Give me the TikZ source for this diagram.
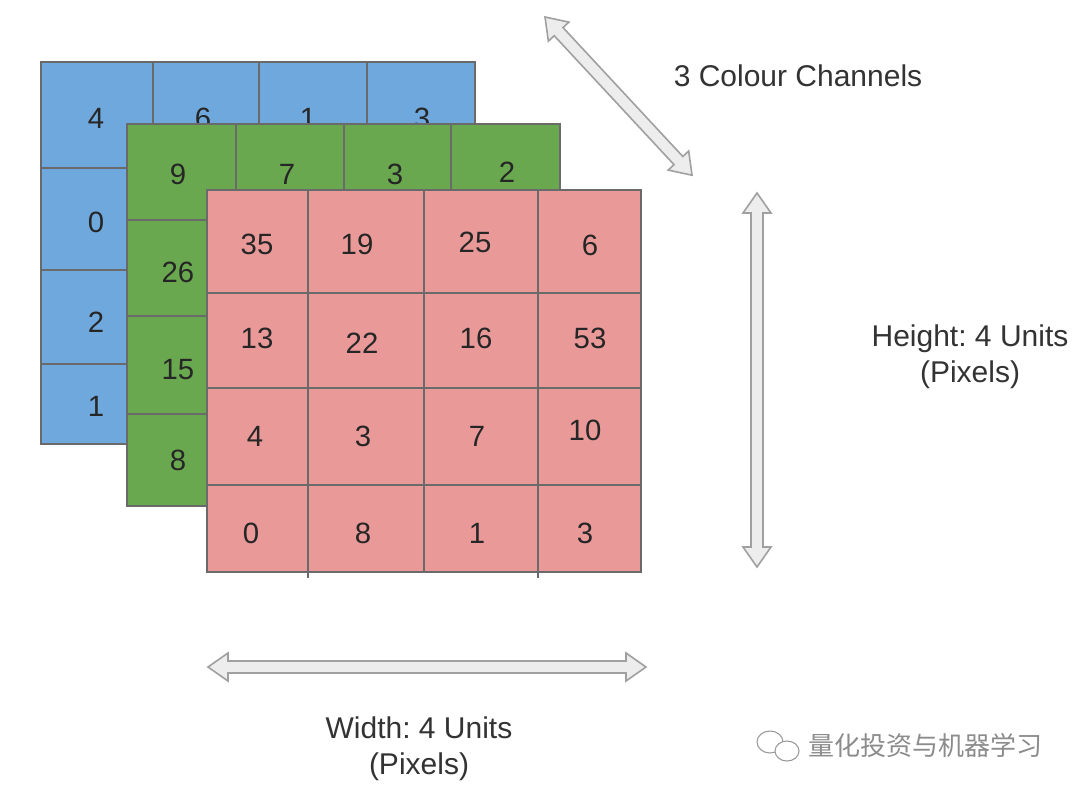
\documentclass[tikz,border=0pt]{standalone}
\usepackage{fontspec}
\setmainfont{Liberation Sans}
\newfontfamily\cjk{Noto Sans CJK SC}
\frenchspacing
\definecolor{cblue}{HTML}{6FA8DC}
\definecolor{cgreen}{HTML}{6AA84F}
\definecolor{cred}{HTML}{EA9999}
\definecolor{cgrid}{HTML}{6A6A6A}
\definecolor{arrfill}{HTML}{EDEDED}
\definecolor{arrline}{HTML}{A0A0A0}
\newcommand{\dblarrow}[4]{% x y angle length
\begin{scope}[shift={(#1,#2)},rotate=#3]
\draw[arrline,fill=arrfill,line width=1.2pt,line join=miter] (0,0) -- (20,-14) -- (20,-6) -- (#4-20,-6) -- (#4-20,-14) -- (#4,0) -- (#4-20,14) -- (#4-20,6) -- (20,6) -- (20,14) -- cycle;
\end{scope}}
\tikzset{num/.style={font=\fontsize{22}{24}\selectfont,text=black!85,inner sep=0pt},
lab/.style={font=\fontsize{22.5}{26}\selectfont,text=black!80,inner sep=0pt,align=center},
gridl/.style={cgrid,line width=0.9pt}}
\begin{document}
\begin{tikzpicture}[x=0.75pt,y=-0.75pt]
\useasboundingbox (0,0) rectangle (1080,795);
\fill[white] (0,0) rectangle (1080,795);
% blue layer
\fill[cblue] (41,62) rectangle (475,444);
\draw[gridl] (41,62) rectangle (475,444);
\foreach \x in {153,259,367} \draw[gridl] (\x,62) -- (\x,444);
\foreach \y in {168,270,364} \draw[gridl] (41,\y) -- (475,\y);
\node[num] (b1) at (96,118) {4};
\node[num] (b2) at (203,118) {6};
\node[num] (b3) at (308,118) {1};
\node[num] (b4) at (422,118) {3};
\node[num] (b5) at (96,222) {0};
\node[num] (b6) at (96,322) {2};
\node[num] (b7) at (96,406) {1};
% green layer
\fill[cgreen] (127,124) rectangle (560,506);
\draw[gridl] (127,124) rectangle (560,506);
\foreach \x in {236,344,451} \draw[gridl] (\x,124) -- (\x,506);
\foreach \y in {220,316,414} \draw[gridl] (127,\y) -- (560,\y);
\node[num] (g1) at (178,174) {9};
\node[num] (g2) at (287,174) {7};
\node[num] (g3) at (395,174) {3};
\node[num] (g4) at (507,172) {2};
\node[num] (g5) at (178,272) {26};
\node[num] (g6) at (178,370) {15};
\node[num] (g7) at (178,460) {8};
% red layer
\fill[cred] (207,190) rectangle (641,572);
\draw[gridl] (207,190) rectangle (641,572);
\draw[gridl] (308,190) -- (308,578);
\draw[gridl] (424,190) -- (424,572);
\draw[gridl] (538,190) -- (538,578);
\foreach \y in {293,388,485} \draw[gridl] (207,\y) -- (641,\y);
\node[num] (r1) at (257,244) {35};
\node[num] (r2) at (357,244) {19};
\node[num] (r3) at (475,242) {25};
\node[num] (r4) at (590,245) {6};
\node[num] (r5) at (257,338) {13};
\node[num] (r6) at (362,343) {22};
\node[num] (r7) at (476,338) {16};
\node[num] (r8) at (590,338) {53};
\node[num] (r9) at (255,436) {4};
\node[num] (r10) at (363,436) {3};
\node[num] (r11) at (477,436) {7};
\node[num] (r12) at (585,430) {10};
\node[num] (r13) at (251,533) {0};
\node[num] (r14) at (363,533) {8};
\node[num] (r15) at (477,533) {1};
\node[num] (r16) at (585,533) {3};
% arrows
\dblarrow{545}{17}{-47.1}{216}
\dblarrow{757}{193}{-90}{374}
\dblarrow{208}{667}{0}{438}
% labels
\node[lab] (lc) at (798,76) {3 Colour Channels};
\node[lab] (lh) at (970,357) {Height: 4 Units\\[1pt](Pixels)};
\node[lab] (lw) at (419,749) {Width: 4 Units\\[1pt](Pixels)};
% watermark
\node[font=\cjk\fontsize{19.5}{22}\selectfont,text=black!45,inner sep=0pt] (wm) at (925,746) {量化投资与机器学习};
\draw[black!40,line width=0.8pt] (770,742) ellipse (13 and 11);
\draw[black!40,line width=0.8pt,fill=white] (787,751) ellipse (12 and 10);
\end{tikzpicture}
\end{document}
